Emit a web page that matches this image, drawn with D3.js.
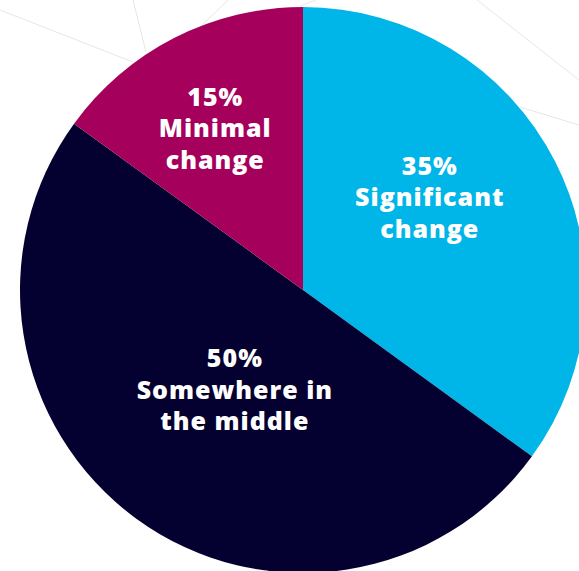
<!DOCTYPE html>
<html>
<head>
<meta charset="utf-8">
<script src="https://cdn.jsdelivr.net/npm/d3@7"></script>
<style>
  html, body { margin: 0; padding: 0; background: #ffffff; overflow: hidden; }
  svg { display: block; }
</style>
</head>
<body>
<svg id="chart" width="579" height="571"></svg>
<script>
// Share of respondents by amount of change
const categories = ["Significant change", "Somewhere in the middle", "Minimal change"];
const shares = [35, 50, 15];
const percentLabels = ["35%", "50%", "15%"];
const labelLines = [["Significant", "change"], ["Somewhere in", "the middle"], ["Minimal", "change"]];
const colors = ["#00b5e7", "#04002f", "#a5005b"];

const width = 579, height = 571;
const cx = 303, cy = 290, radius = 283;

const svg = d3.select("#chart");

// faint decorative strokes behind the pie
const deco = [
  [[0, 10], [133, 62]],
  [[133, 0], [146, 52]],
  [[197, 30], [228, 0]],
  [[300, 6], [316, 0]],
  [[477, 0], [579, 80]],
  [[520, 107], [579, 125]]
];
svg.append("g")
  .selectAll("line")
  .data(deco)
  .join("line")
  .attr("x1", d => d[0][0]).attr("y1", d => d[0][1])
  .attr("x2", d => d[1][0]).attr("y2", d => d[1][1])
  .attr("stroke", "#e6e6e6")
  .attr("stroke-width", 1);

const pie = d3.pie().sort(null).value(d => d.value);
const arcs = pie(categories.map((c, i) => ({ name: c, value: shares[i], i })));

const arc = d3.arc().innerRadius(0).outerRadius(radius);

const g = svg.append("g").attr("transform", `translate(${cx},${cy})`);

g.selectAll("path")
  .data(arcs)
  .join("path")
  .attr("d", arc)
  .attr("fill", d => colors[d.data.i]);

// label placement: distance from centre and angular nudge per slice
const labelPlace = {
  "Significant change": { r: 157, da: -0.16 },
  "Somewhere in the middle": { r: 121, da: -0.03 },
  "Minimal change": { r: 184, da: -0.026 }
};
const lineGap = 31.5;

const labels = g.selectAll("text.lbl")
  .data(arcs)
  .join("text")
  .attr("class", "lbl")
  .attr("text-anchor", "middle")
  .attr("fill", "#ffffff")
  .attr("font-family", "'Open Sans', 'Noto Sans', sans-serif")
  .attr("font-weight", 800)
  .attr("font-size", 25)
  .attr("letter-spacing", 1)
  .attr("transform", d => {
    const p = labelPlace[d.data.name];
    const a = (d.startAngle + d.endAngle) / 2 + p.da;
    return `translate(${Math.sin(a) * p.r},${-Math.cos(a) * p.r})`;
  });

labels.each(function(d) {
  const lines = [percentLabels[d.data.i], ...labelLines[d.data.i]];
  const t = d3.select(this);
  lines.forEach((s, k) => {
    t.append("tspan")
      .attr("x", 0)
      .attr("y", (k - (lines.length - 1) / 2) * lineGap)
      .attr("dy", "0.35em")
      .text(s);
  });
});
</script>
</body>
</html>
